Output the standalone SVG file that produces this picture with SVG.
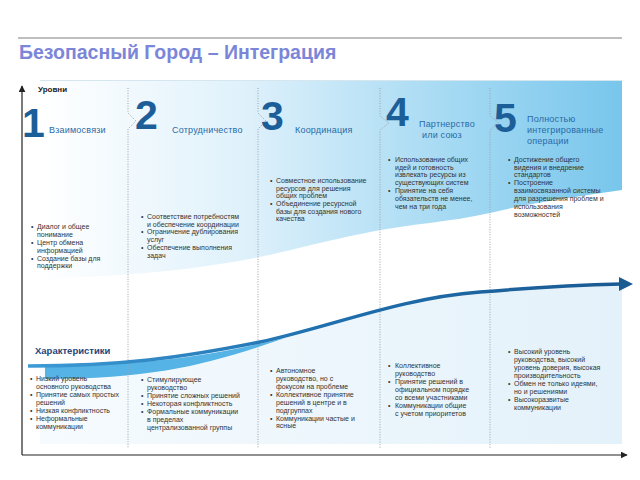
<svg xmlns="http://www.w3.org/2000/svg" width="640" height="480" viewBox="0 0 640 480">
<defs>
<linearGradient id="gTop" x1="40" y1="0" x2="622" y2="0" gradientUnits="userSpaceOnUse">
<stop offset="0" stop-color="#ffffff"/>
<stop offset="0.35" stop-color="#dff1fb"/>
<stop offset="0.7" stop-color="#a6daf3"/>
<stop offset="1" stop-color="#78c6ec"/>
</linearGradient>
<linearGradient id="gBot" x1="40" y1="0" x2="622" y2="0" gradientUnits="userSpaceOnUse">
<stop offset="0" stop-color="#f6fbfe"/>
<stop offset="1" stop-color="#e3f1fa"/>
</linearGradient>
<linearGradient id="gLine" x1="28" y1="0" x2="622" y2="0" gradientUnits="userSpaceOnUse">
<stop offset="0" stop-color="#3d9bd6"/>
<stop offset="0.5" stop-color="#1f6fae"/>
<stop offset="1" stop-color="#1a5a92"/>
</linearGradient>
<marker id="ax" viewBox="0 0 10 10" refX="9" refY="5" markerWidth="7" markerHeight="7" orient="auto" markerUnits="userSpaceOnUse">
<path d="M0,0 L10,5 L0,10 Z" fill="#222"/>
</marker>
<style>
.t{font-family:"Liberation Sans",Arial,sans-serif;}
.num{font-family:"Liberation Sans",Arial,sans-serif;font-weight:bold;font-size:41px;fill:#1c5e98;}
.lab{font-family:"Liberation Sans",Arial,sans-serif;font-size:9px;fill:#2a6aa6;letter-spacing:0.2px;}
.b{font-family:"Liberation Sans",Arial,sans-serif;font-size:7px;fill:#333;}
.sep{fill:none;stroke:#9aa3aa;stroke-width:1;stroke-dasharray:1 1.5;}
</style>
</defs>
<rect width="640" height="480" fill="#ffffff"/>
<line x1="18" y1="38" x2="622" y2="38" stroke="#808080" stroke-width="1.2"/>
<text class="t" x="19" y="59" font-size="19.5" font-weight="bold" fill="#7b86d8">Безопасный Город – Интеграция</text>

<g id="background">
<path d="M40,80 H622 V190 C 580,196 530,203 490,213 C 450,222 410,224 370,232 C 320,242 290,251 250,259 C 200,268 150,275 40,279 Z" fill="url(#gTop)"/>
<line x1="40" y1="80.5" x2="622" y2="80.5" stroke="#d6e6ee" stroke-width="1"/>
<path d="M40,366 L28,366 C 120,366 180,358 260,342 C 330,327 400,298 480,292 C 540,287 580,285 622,284 V444 H40 Z" fill="url(#gBot)"/>
<path d="M45,365 C 150,365 200,358 285,338 C 215,362 160,379 45,379 Z" fill="#55b3e5"/>
</g>

<g id="axes">
<line x1="22" y1="455" x2="22" y2="86" stroke="#222" stroke-width="1.2" marker-end="url(#ax)"/>
<line x1="22" y1="455" x2="627" y2="455" stroke="#222" stroke-width="1.2" marker-end="url(#ax)"/>
<text class="t" x="38" y="92" font-size="8" font-weight="bold" fill="#222">Уровни</text>
<text class="t" x="35" y="354" font-size="9.5" font-weight="bold" fill="#26467a">Характеристики</text>
</g>

<g id="connectors">
<path class="sep" d="M128,88 V113 L136,121 L128,129 V448"/>
<path class="sep" d="M258,88 V113 L266,121 L258,129 V448"/>
<path class="sep" d="M380,88 V116 L389,123 L380,130 V448"/>
<path class="sep" d="M490,88 V116 L499,123 L490,130 V448"/>
<path d="M28,366 C 120,366 180,358 260,342 C 330,327 400,298 480,292 C 540,287 580,285 621,284" fill="none" stroke="url(#gLine)" stroke-width="3.5"/>
<path d="M619,277 L633,284 L619,291 Z" fill="#1a5a92"/>
</g>

<g id="level1">
<text class="num" x="22" y="137">1</text>
<text class="lab" x="49" y="133">Взаимосвязи</text>
<text class="b"><tspan x="31" y="229">•</tspan><tspan x="37" y="229">Диалог и общее</tspan><tspan x="37" y="237">понимание</tspan><tspan x="31" y="245">•</tspan><tspan x="37" y="245">Центр обмена</tspan><tspan x="37" y="253">информацией</tspan><tspan x="31" y="261">•</tspan><tspan x="37" y="261">Создание базы для</tspan><tspan x="37" y="268">поддержки</tspan></text>
<text class="b"><tspan x="30" y="381">•</tspan><tspan x="36" y="381">Низкий уровень</tspan><tspan x="36" y="389">основного руководства</tspan><tspan x="30" y="397">•</tspan><tspan x="36" y="397">Принятие самых простых</tspan><tspan x="36" y="405">решений</tspan><tspan x="30" y="413">•</tspan><tspan x="36" y="413">Низкая конфликтность</tspan><tspan x="30" y="421">•</tspan><tspan x="36" y="421">Неформальные</tspan><tspan x="36" y="429">коммуникации</tspan></text>
</g>

<g id="level2">
<text class="num" x="135" y="129">2</text>
<text class="lab" x="172" y="133">Сотрудничество</text>
<text class="b"><tspan x="141" y="219">•</tspan><tspan x="147" y="219">Соответствие потребностям</tspan><tspan x="147" y="226.5">и обеспечение координации</tspan><tspan x="141" y="234">•</tspan><tspan x="147" y="234">Ограничение дублирования</tspan><tspan x="147" y="242">услуг</tspan><tspan x="141" y="250">•</tspan><tspan x="147" y="250">Обеспечение выполнения</tspan><tspan x="147" y="258">задач</tspan></text>
<text class="b"><tspan x="141" y="382">•</tspan><tspan x="147" y="382">Стимулирующее</tspan><tspan x="147" y="390">руководство</tspan><tspan x="141" y="398">•</tspan><tspan x="147" y="398">Принятие сложных решений</tspan><tspan x="141" y="406">•</tspan><tspan x="147" y="406">Некоторая конфликтность</tspan><tspan x="141" y="414">•</tspan><tspan x="147" y="414">Формальные коммуникации</tspan><tspan x="147" y="422">в пределах</tspan><tspan x="147" y="430">централизованной группы</tspan></text>
</g>

<g id="level3">
<text class="num" x="261" y="130">3</text>
<text class="lab" x="295" y="133">Координация</text>
<text class="b"><tspan x="270" y="183">•</tspan><tspan x="276" y="183">Совместное использование</tspan><tspan x="276" y="190.5">ресурсов для решения</tspan><tspan x="276" y="198">общих проблем</tspan><tspan x="270" y="206">•</tspan><tspan x="276" y="206">Объединение ресурсной</tspan><tspan x="276" y="213.5">базы для создания нового</tspan><tspan x="276" y="221">качества</tspan></text>
<text class="b"><tspan x="270" y="373">•</tspan><tspan x="276" y="373">Автономное</tspan><tspan x="276" y="381">руководство, но с</tspan><tspan x="276" y="389">фокусом на проблеме</tspan><tspan x="270" y="397">•</tspan><tspan x="276" y="397">Коллективное принятие</tspan><tspan x="276" y="405">решений в центре и в</tspan><tspan x="276" y="413">подгруппах</tspan><tspan x="270" y="420.5">•</tspan><tspan x="276" y="420.5">Коммуникации частые и</tspan><tspan x="276" y="428">ясные</tspan></text>
</g>

<g id="level4">
<text class="num" x="386" y="126" font-size="44">4</text>
<text class="lab" x="419" y="127">Партнерство</text>
<text class="lab" x="422" y="138">или союз</text>
<text class="b"><tspan x="388" y="162">•</tspan><tspan x="395" y="162">Использование общих</tspan><tspan x="395" y="169.5">идей и готовность</tspan><tspan x="395" y="177">извлекать ресурсы из</tspan><tspan x="395" y="185">существующих систем</tspan><tspan x="388" y="193">•</tspan><tspan x="395" y="193">Принятие на себя</tspan><tspan x="395" y="201">обязательств не менее,</tspan><tspan x="395" y="209">чем на три года</tspan></text>
<text class="b"><tspan x="388" y="368">•</tspan><tspan x="395" y="368">Коллективное</tspan><tspan x="395" y="376">руководство</tspan><tspan x="388" y="384">•</tspan><tspan x="395" y="384">Принятие решений в</tspan><tspan x="395" y="392">официальном порядке</tspan><tspan x="395" y="400">со всеми участниками</tspan><tspan x="388" y="408">•</tspan><tspan x="395" y="408">Коммуникации общие</tspan><tspan x="395" y="416">с учетом приоритетов</tspan></text>
</g>

<g id="level5">
<text class="num" x="494" y="132">5</text>
<text class="lab" x="527" y="122">Полностью</text>
<text class="lab" x="527" y="133">интегрированные</text>
<text class="lab" x="527" y="144">операции</text>
<text class="b"><tspan x="508" y="162">•</tspan><tspan x="514" y="162">Достижение общего</tspan><tspan x="514" y="170">видения и внедрение</tspan><tspan x="514" y="177">стандартов</tspan><tspan x="508" y="185">•</tspan><tspan x="514" y="185">Построение</tspan><tspan x="514" y="193">взаимосвязанной системы</tspan><tspan x="514" y="201">для разрешения проблем и</tspan><tspan x="514" y="209">использования</tspan><tspan x="514" y="217">возможностей</tspan></text>
<text class="b"><tspan x="508" y="354">•</tspan><tspan x="514" y="354">Высокий уровень</tspan><tspan x="514" y="362">руководства, высокий</tspan><tspan x="514" y="370">уровень доверия, высокая</tspan><tspan x="514" y="378">производительность</tspan><tspan x="508" y="386">•</tspan><tspan x="514" y="386">Обмен не только идеями,</tspan><tspan x="514" y="394">но и решениями</tspan><tspan x="508" y="402">•</tspan><tspan x="514" y="402">Высокоразвитые</tspan><tspan x="514" y="410">коммуникации</tspan></text>
</g>
</svg>
